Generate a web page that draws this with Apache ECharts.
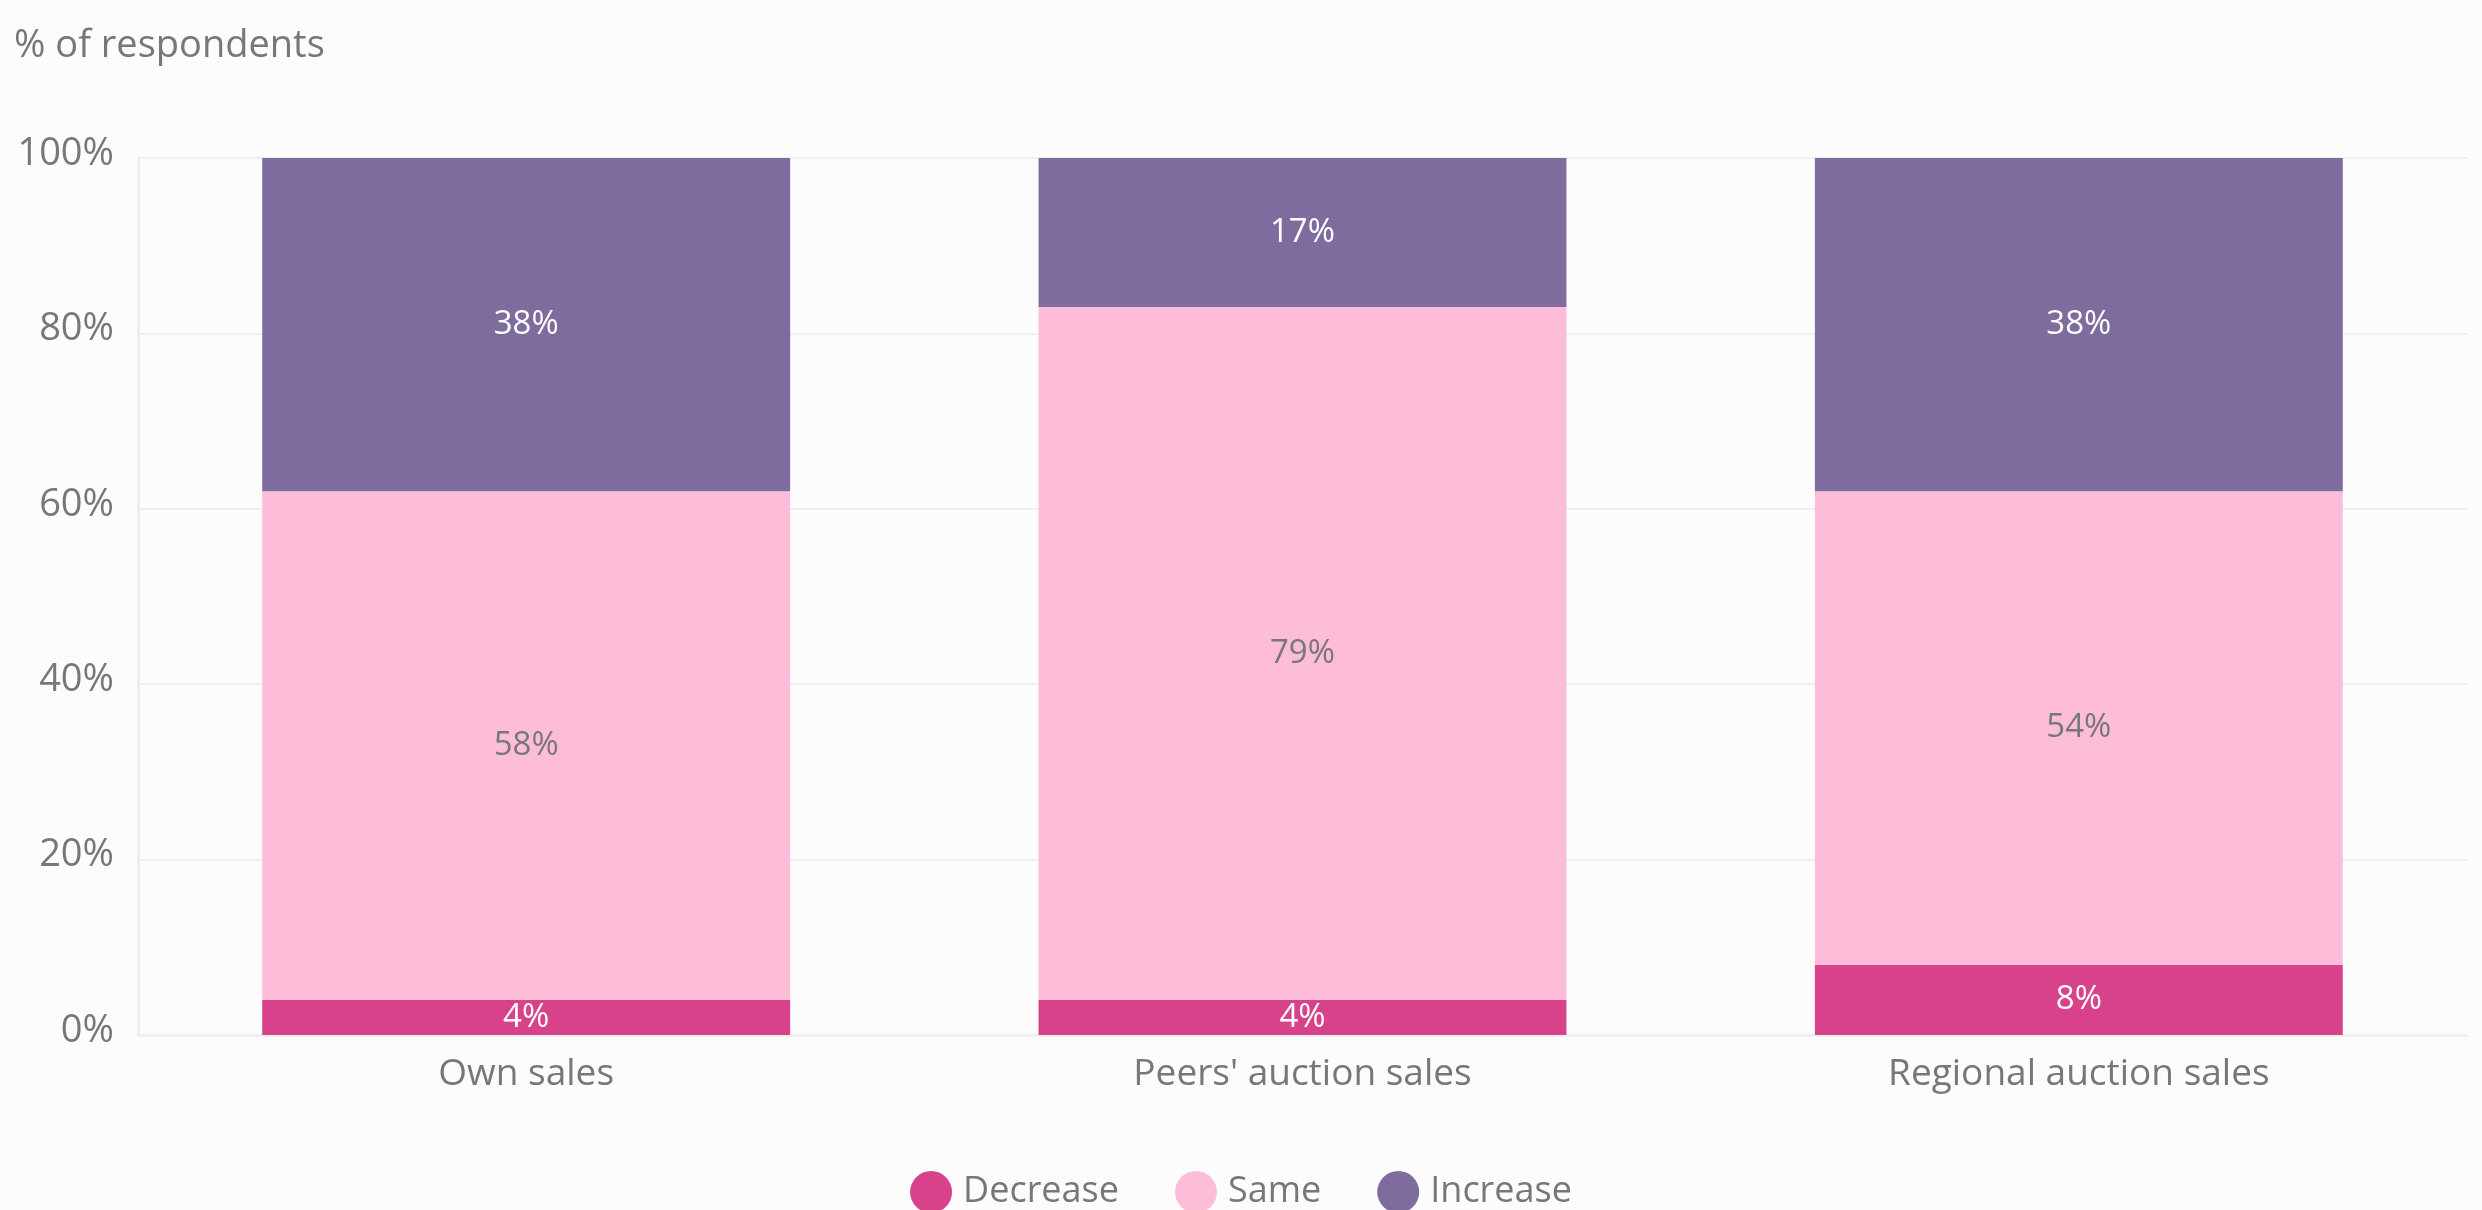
<!DOCTYPE html>
<html>
<head>
<meta charset="utf-8">
<script src="https://cdn.jsdelivr.net/npm/echarts@6/dist/echarts.min.js"></script>
<style>
  html, body { margin: 0; padding: 0; background: #fcfcfc; }
  #chart { width: 2482px; height: 1210px; }
</style>
</head>
<body>
<div id="chart"></div>
<script>
// Survey outcome by sales channel (% of respondents)
const categories = ["Own sales", "Peers' auction sales", "Regional auction sales"];
const decrease = [4, 4, 8];
const same = [58, 79, 54];
const increase = [38, 17, 38];
const yTicks = [0, 20, 40, 60, 80, 100];

const FONT = '"Open Sans", "Noto Sans", sans-serif';
const GREY = '#777777';

const chart = echarts.init(document.getElementById('chart'), null, { renderer: 'canvas' });

function seriesOf(name, values, color, labelColor) {
  return {
    name: name,
    type: 'bar',
    stack: 'total',
    data: values,
    barCategoryGap: '32%',
    itemStyle: { color: color },
    label: {
      show: true,
      position: 'inside',
      formatter: p => p.value + '%',
      color: labelColor,
      fontFamily: FONT,
      fontSize: 33
    },
    emphasis: { disabled: true }
  };
}

chart.setOption({
  backgroundColor: '#fcfcfc',
  animation: false,
  title: {
    text: '% of respondents',
    left: 9,
    top: 22,
    textStyle: { color: GREY, fontFamily: FONT, fontSize: 38, fontWeight: 'normal' }
  },
  legend: {
    data: ['Decrease', 'Same', 'Increase'],
    top: 1166,
    left: 'center',
    icon: 'circle',
    itemWidth: 42,
    itemHeight: 42,
    itemGap: 56,
    textStyle: { color: GREY, fontFamily: FONT, fontSize: 36, padding: [0, 0, 0, 6] }
  },
  grid: { left: 138, right: 15, top: 158, bottom: 175, containLabel: false },
  xAxis: {
    type: 'category',
    data: categories,
    axisLine: { show: true, lineStyle: { color: '#efefef', width: 3 } },
    axisTick: { show: false },
    axisLabel: { color: GREY, fontFamily: FONT, fontSize: 37, margin: 21 }
  },
  yAxis: {
    type: 'value',
    min: yTicks[0],
    max: yTicks[yTicks.length - 1],
    interval: 20,
    axisLine: { show: true, lineStyle: { color: '#efefef', width: 3 } },
    axisTick: { show: false },
    splitLine: { show: true, lineStyle: { color: '#efefef', width: 2 } },
    axisLabel: {
      margin: 24,
      formatter: v => '{t|' + v + '%}',
      rich: {
        t: { color: GREY, fontFamily: FONT, fontSize: 38, padding: [0, 0, 8, 0] }
      }
    }
  },
  series: [
    seriesOf('Decrease', decrease, '#d8428a', '#ffffff'),
    seriesOf('Same', same, '#fdbdd9', GREY),
    seriesOf('Increase', increase, '#7f6c9f', '#ffffff')
  ]
});
</script>
</body>
</html>
